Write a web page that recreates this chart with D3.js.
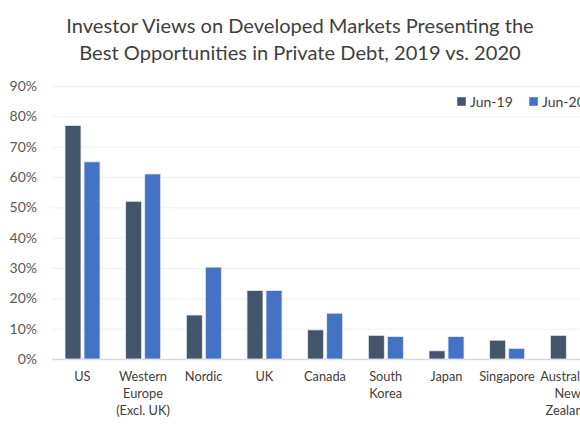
<!DOCTYPE html>
<html><head><meta charset="utf-8">
<script src="https://cdn.jsdelivr.net/npm/d3@7"></script>
<style>body{margin:0;background:#fff;overflow:hidden}svg{display:block}</style>
</head><body>
<svg id="c" width="580" height="435"></svg>
<script>
const categories = ["US", "Western\nEurope\n(Excl. UK)", "Nordic", "UK", "Canada", "South\nKorea", "Japan", "Singapore", "Australia/\nNew\nZealand"];
const seriesNames = ["Jun-19", "Jun-20"];
const jun19 = [0.77, 0.52, 0.145, 0.226, 0.096, 0.078, 0.027, 0.062, 0.078];
const jun20 = [0.65, 0.61, 0.303, 0.226, 0.151, 0.074, 0.074, 0.035, 0];
const yTicks = [0, 0.1, 0.2, 0.3, 0.4, 0.5, 0.6, 0.7, 0.8, 0.9];
const colors = ["#44546a", "#4472c4"];
const titleLines = ["Investor Views on Developed Markets Presenting the", "Best Opportunities in Private Debt, 2019 vs. 2020"];

const svg = d3.select("#c");
const font = "Lato, 'Open Sans', sans-serif";
const x = d3.scaleBand().domain(categories).range([52, 598]).paddingInner(0).paddingOuter(0);
const y = d3.scaleLinear().domain([0, 0.9]).range([359, 86]);
const inner = d3.scaleBand().domain(seriesNames).range([13, 48]).paddingInner(0.16);

svg.append("g").selectAll("text").data(titleLines).join("text")
  .attr("x", 300).attr("y", (d,i)=>33 + i*26.5).attr("text-anchor","middle")
  .attr("font-family", font).attr("font-size", 20.1).attr("fill","#404040").text(d=>d);

// grid
const yAxis = d3.axisLeft(y).tickValues(yTicks).tickFormat(d3.format(".0%")).tickSize(-(598-52));
const gy = svg.append("g").attr("transform","translate(52,0)").call(yAxis);
gy.select(".domain").remove();
gy.selectAll(".tick line").attr("stroke", d=> d===0 ? "#d9d9d9" : "#f0f0f0").attr("stroke-width", d=>d===0?1.5:1);
gy.selectAll(".tick text").attr("x", -15).attr("font-family", font).attr("font-size", 14).attr("fill","#595959");

// bars
const data = categories.map((c,i)=>({c, vals:[jun19[i], jun20[i]]}));
const g = svg.append("g");
g.selectAll("g").data(data).join("g").attr("transform", d=>`translate(${x(d.c)},0)`)
  .selectAll("rect").data(d=>d.vals.map((v,j)=>({v, s:seriesNames[j], j}))).join("rect")
  .attr("x", d=>inner(d.s)).attr("width", inner.bandwidth())
  .attr("y", d=>y(d.v)).attr("height", d=>y(0)-y(d.v))
  .attr("fill", d=>colors[d.j]).attr("stroke","#e8ecf2").attr("stroke-width",0.8)
  .attr("display", d=>d.v>0?null:"none");

// x labels
const xl = svg.append("g").selectAll("text").data(categories).join("text")
  .attr("x", d=>x(d)+x.bandwidth()/2).attr("y", 381).attr("text-anchor","middle")
  .attr("font-family", font).attr("font-size", 12.8).attr("fill","#404040");
xl.each(function(d){
  const t = d3.select(this);
  d.split("\n").forEach((line,i)=> t.append("tspan").attr("x", x(d)+x.bandwidth()/2).attr("dy", i===0?0:16.8).text(line));
});

// legend
const leg = svg.append("g").selectAll("g").data(seriesNames).join("g")
  .attr("transform", (d,i)=>`translate(${457 + i*72},97)`);
leg.append("rect").attr("width",9).attr("height",9).attr("fill",(d,i)=>colors[i]).attr("stroke","#e8ecf2").attr("stroke-width",0.5);
leg.append("text").attr("x",13).attr("y",9.5).attr("font-family",font).attr("font-size",14).attr("fill","#404040").text(d=>d);
</script>
</body></html>
